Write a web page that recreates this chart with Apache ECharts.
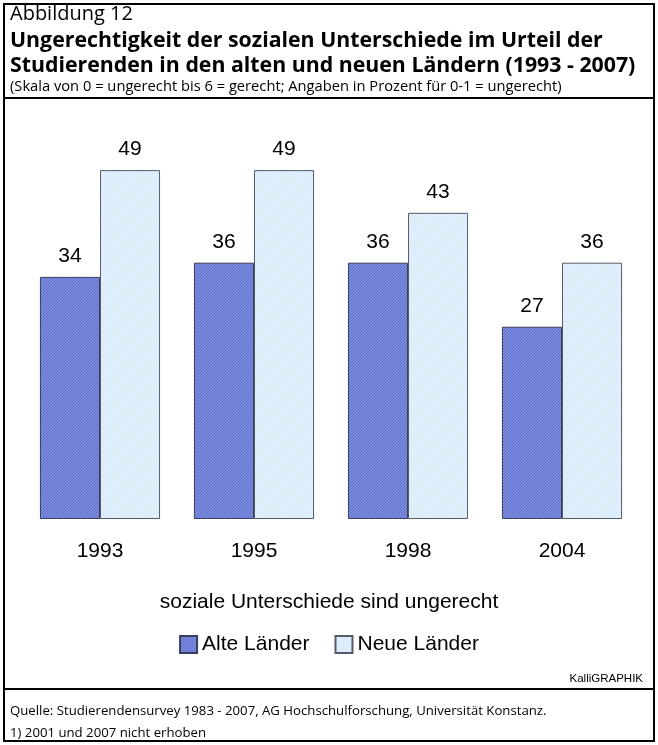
<!DOCTYPE html>
<html>
<head>
<meta charset="utf-8">
<script src="https://cdn.jsdelivr.net/npm/echarts@6/dist/echarts.min.js"></script>
<style>
  html, body { margin: 0; padding: 0; background: #fff; }
  #chart { width: 658px; height: 745px; }
</style>
</head>
<body>
<div id="chart"></div>
<script>
var years = ['1993', '1995', '1998', '2004'];
var alteLaender = [34, 36, 36, 27];
var neueLaender = [49, 49, 43, 36];

// kleine Schraffur-Muster fuer die Balken
function hatch(base, line) {
    var c = document.createElement('canvas');
    c.width = 3; c.height = 3;
    var ctx = c.getContext('2d');
    ctx.fillStyle = base;
    ctx.fillRect(0, 0, 3, 3);
    ctx.fillStyle = line;
    ctx.fillRect(2, 0, 1, 1);
    ctx.fillRect(1, 1, 1, 1);
    ctx.fillRect(0, 2, 1, 1);
    return c;
}
var darkFill = { image: hatch('#7d8ce0', '#5a6bc8'), repeat: 'repeat' };
var lightFill = { image: hatch('#d2e8fc', '#f2f9ff'), repeat: 'repeat' };

var chart = echarts.init(document.getElementById('chart'));
var txt = '"Open Sans", "Noto Sans", sans-serif';
var arial = '"Liberation Sans", Arial, sans-serif';

var option = {
    backgroundColor: '#fff',
    animation: false,
    grid: { left: 23, right: 19, top: 163, bottom: 226 },
    xAxis: {
        type: 'category',
        data: years,
        axisLine: { show: false },
        axisTick: { show: false },
        axisLabel: { fontFamily: arial, fontSize: 21, color: '#000', margin: 22 }
    },
    yAxis: {
        type: 'value',
        min: 0, max: 50,
        show: false
    },
    legend: {
        top: 629,
        left: 'center',
        icon: 'rect',
        itemWidth: 17, itemHeight: 17,
        itemGap: 25,
        textStyle: { fontFamily: arial, fontSize: 21, color: '#000' },
        data: ['Alte Länder', 'Neue Länder']
    },
    series: [
        {
            name: 'Alte Länder',
            type: 'bar',
            barGap: 0,
            barCategoryGap: '22%',
            data: alteLaender,
            itemStyle: { color: darkFill, borderColor: '#3a3f5a', borderWidth: 1 },
            label: { show: true, position: 'top', distance: 10, fontFamily: arial, fontSize: 21, color: '#000' }
        },
        {
            name: 'Neue Länder',
            type: 'bar',
            data: neueLaender,
            itemStyle: { color: lightFill, borderColor: '#555a66', borderWidth: 1 },
            label: { show: true, position: 'top', distance: 10, fontFamily: arial, fontSize: 21, color: '#000' }
        }
    ],
    graphic: [
        { type: 'rect', shape: { x: 4, y: 4, width: 650, height: 737 }, style: { fill: 'none', stroke: '#000', lineWidth: 2 }, silent: true },
        { type: 'line', shape: { x1: 4, y1: 98, x2: 654, y2: 98 }, style: { stroke: '#000', lineWidth: 2 } },
        { type: 'line', shape: { x1: 4, y1: 689, x2: 654, y2: 689 }, style: { stroke: '#000', lineWidth: 2 } },
        { type: 'text', left: 10, top: 4, style: { text: 'Abbildung 12', font: '20px ' + txt, fill: '#000' } },
        { type: 'text', left: 10, top: 30, style: { text: 'Ungerechtigkeit der sozialen Unterschiede im Urteil der', font: 'bold 21.3px ' + txt, fill: '#000' } },
        { type: 'text', left: 10, top: 55, style: { text: 'Studierenden in den alten und neuen Ländern (1993 - 2007)', font: 'bold 21.3px ' + txt, fill: '#000' } },
        { type: 'text', left: 10, top: 79, style: { text: '(Skala von 0 = ungerecht bis 6 = gerecht; Angaben in Prozent für 0-1 = ungerecht)', font: '14.7px ' + txt, fill: '#000' } },
        { type: 'text', left: 'center', top: 592, style: { text: 'soziale Unterschiede sind ungerecht', font: '21px ' + arial, fill: '#000' } },
        { type: 'text', right: 15, top: 673, style: { text: 'KalliGRAPHIK', font: '11.5px ' + arial, fill: '#000' } },
        { type: 'text', left: 10, top: 705, style: { text: 'Quelle: Studierendensurvey 1983 - 2007, AG Hochschulforschung, Universität Konstanz.', font: '13.2px ' + txt, fill: '#000' } },
        { type: 'text', left: 10, top: 727, style: { text: '1) 2001 und 2007 nicht erhoben', font: '13.2px ' + txt, fill: '#000' } }
    ]
};
chart.setOption(option);
</script>
</body>
</html>
